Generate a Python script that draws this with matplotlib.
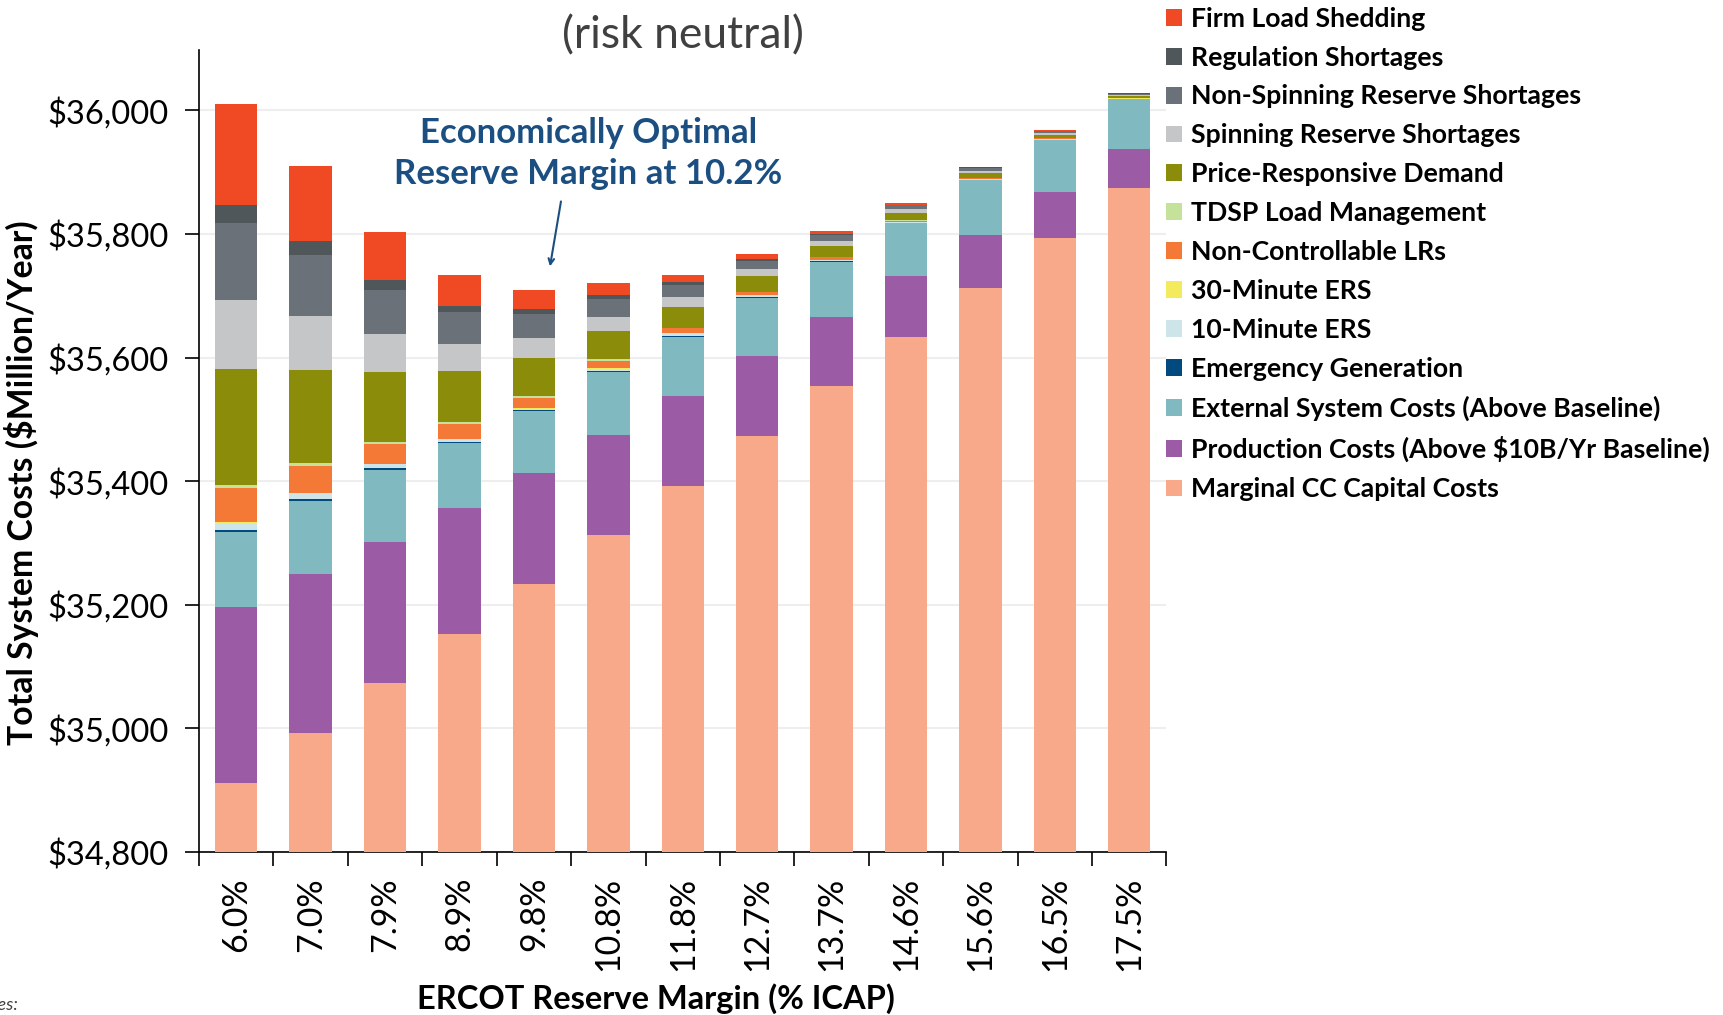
import matplotlib.pyplot as plt
import numpy as np

plt.rcParams['font.family'] = ['Lato', 'DejaVu Sans']

# Reserve margins (x categories)
margins = ['6.0%', '7.0%', '7.9%', '8.9%', '9.8%', '10.8%', '11.8%',
           '12.7%', '13.7%', '14.6%', '15.6%', '16.5%', '17.5%']

# Cost components, $Million/Year (stacked bottom -> top)
cc_capital = [34912, 34992, 35073, 35153, 35233, 35313, 35392, 35473, 35554, 35633, 35713, 35793, 35874]
production = [285, 257, 229, 204, 180, 162, 146, 130, 112, 99, 86, 74.5, 63]
external = [121, 119, 116, 104, 100, 101, 95, 93, 89, 85, 88.5, 84.5, 81]
emergency_gen = [3, 3, 3, 2, 2, 2, 2, 1.5, 1, 0.8, 0.5, 0.5, 0.5]
ers_10min = [11, 9, 6, 4, 2, 4, 3, 2, 1.5, 1, 0.5, 0.5, 0.5]
ers_30min = [2, 1, 1, 2, 2, 1, 1, 1, 0.5, 0.4, 0.3, 0.3, 0.3]
non_ctrl_lrs = [55, 44, 32, 23, 16, 12, 8, 5, 4, 2.5, 1.5, 1.5, 1]
tdsp_load = [4, 4, 3, 3, 3, 2, 1, 1, 1, 0.6, 0.3, 0.3, 0.2]
price_resp = [188, 151, 113, 83, 62, 46, 34, 25, 18, 11.5, 7.5, 5, 3]
spin_short = [112, 88, 62, 44, 32, 23, 16, 12, 8, 6.5, 4, 3, 1.5]
nonspin_short = [124, 98, 71, 51, 38, 28, 20, 13, 10, 6, 5, 3.5, 2]
reg_short = [29, 22, 16, 11, 9, 7, 4, 3, 1.5, 1, 0.5, 0.5, 0.5]
firm_shed = [165, 122, 78, 49, 31, 19, 12, 8, 4, 3.5, 1, 0.5, 0.5]

series = [
    ('Marginal CC Capital Costs', cc_capital, '#F7A98A'),
    ('Production Costs (Above $10B/Yr Baseline)', production, '#9B5BA5'),
    ('External System Costs (Above Baseline)', external, '#81B9C1'),
    ('Emergency Generation', emergency_gen, '#004A80'),
    ('10-Minute ERS', ers_10min, '#CDE4E8'),
    ('30-Minute ERS', ers_30min, '#F3EA5D'),
    ('Non-Controllable LRs', non_ctrl_lrs, '#F47836'),
    ('TDSP Load Management', tdsp_load, '#C5E29B'),
    ('Price-Responsive Demand', price_resp, '#8B8C0A'),
    ('Spinning Reserve Shortages', spin_short, '#C4C6C8'),
    ('Non-Spinning Reserve Shortages', nonspin_short, '#6A7178'),
    ('Regulation Shortages', reg_short, '#50575B'),
    ('Firm Load Shedding', firm_shed, '#EF4A24'),
]

fig = plt.figure(figsize=(17.23, 10.15), dpi=100)
ax = fig.add_axes([0.1155, 0.1606, 0.5615, 0.7904])

x = np.arange(len(margins))
bottom = np.zeros(len(margins))
handles = []
for name, vals, col in series:
    vals = np.array(vals, dtype=float)
    b = ax.bar(x, vals, 0.57, bottom=bottom, color=col, label=name,
               edgecolor='none', zorder=3)
    handles.append(b)
    bottom += vals

ax.set_xlim(-0.5, len(margins) - 0.5)
ax.set_ylim(34800, 36098)

yt = [34800, 35000, 35200, 35400, 35600, 35800, 36000]
ax.set_yticks(yt)
ax.set_yticklabels(['${:,}'.format(v) for v in yt], fontsize=23.5)
ax.yaxis.grid(True, color='#EEEEEE', linewidth=1.5, zorder=0)
ax.set_axisbelow(True)

ax.set_xticks(x)
ax.set_xticklabels(margins, rotation=90, fontsize=24.5)
ax.set_xticks(np.arange(-0.5, len(margins)), minor=True)
ax.tick_params(axis='x', which='major', length=0, pad=18)
ax.tick_params(axis='x', which='minor', length=10, width=1.2, direction='out')
ax.tick_params(axis='y', length=10, width=1.2, direction='out', pad=12)

for s in ['top', 'right']:
    ax.spines[s].set_visible(False)
for s in ['left', 'bottom']:
    ax.spines[s].set_linewidth(1.2)

ax.set_ylabel('Total System Costs ($Million/Year)', fontsize=24.3, fontweight='bold')
ax.yaxis.set_label_coords(-0.1656, 0.46)
ax.set_xlabel('ERCOT Reserve Margin (% ICAP)', fontsize=23.5, fontweight='bold')
ax.xaxis.set_label_coords(0.472, -0.164)

fig.text(683 / 1723, 1 - 36 / 1015, '(risk neutral)', ha='center', va='center',
         fontsize=32, color='#404040')

ax.annotate('', xy=(4.21, 35743), xytext=(4.37, 35857),
            arrowprops=dict(arrowstyle='->', color='#1B4F82', lw=1.5))
ax.text(4.73, 35930, 'Economically Optimal\nReserve Margin at 10.2%', ha='center',
        va='center', fontsize=25, fontweight='bold', color='#1B4F82', linespacing=1.35)

fig.legend(handles[::-1], [s[0] for s in series][::-1], loc='upper left',
           bbox_to_anchor=(1155 / 1723, 1.004), frameon=False, prop={'size': 19.2, 'weight': 'bold'},
           handlelength=0.6, handleheight=0.6, handletextpad=0.35, labelspacing=0.56,
           borderaxespad=0.0)

fig.text(18 / 1723, 1 - 1005 / 1015, 'Notes:', ha='right', va='center', fontsize=13,
         style='italic', color='#404040')

fig.savefig('out.png', dpi=100)
